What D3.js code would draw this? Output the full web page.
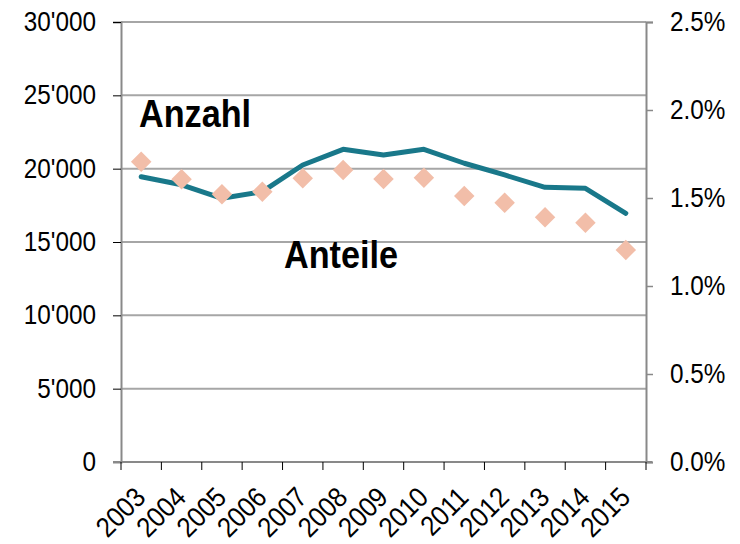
<!DOCTYPE html>
<html>
<head>
<meta charset="utf-8">
<script src="https://cdn.jsdelivr.net/npm/d3@7"></script>
<style>
  html, body { margin: 0; padding: 0; background: #fff; }
  svg text { font-family: "Liberation Sans", Arial, sans-serif; fill: #000; }
</style>
</head>
<body>
<svg id="chart" width="740" height="544"></svg>
<script>
const years = ["2003","2004","2005","2006","2007","2008","2009","2010","2011","2012","2013","2014","2015"];
const anzahl = [19450, 18900, 17980, 18430, 20250, 21320, 20930, 21320, 20370, 19570, 18730, 18660, 16960];
const anteile = [1.706, 1.606, 1.521, 1.536, 1.612, 1.659, 1.608, 1.615, 1.511, 1.473, 1.390, 1.360, 1.205];
const leftTicks = [0, 5000, 10000, 15000, 20000, 25000, 30000];
const rightTicks = [0, 0.5, 1.0, 1.5, 2.0, 2.5];
const labelAnzahl = "Anzahl";
const labelAnteile = "Anteile";

const svg = d3.select("#chart");
const L = 121, R = 646, T = 22, B = 462;

const x = d3.scaleBand().domain(years).range([L, R]).padding(0);
const yL = d3.scaleLinear().domain([0, 30000]).range([B, T]);
const yR = d3.scaleLinear().domain([0, 2.5]).range([B, T]);

const gridColor = "#A6A6A6";
const axisColor = "#898989";
const squeeze = 0.9;
function condense(sel) {
  sel.each(function() {
    const len = this.getComputedTextLength();
    d3.select(this).attr("textLength", len * squeeze).attr("lengthAdjust", "spacingAndGlyphs");
  });
}

// gridlines
svg.append("g").selectAll("line").data(leftTicks.filter(d => d > 0)).join("line")
  .attr("x1", L).attr("x2", R)
  .attr("y1", d => yL(d)).attr("y2", d => yL(d))
  .attr("stroke", gridColor).attr("stroke-width", 2);

// left axis
const fmtL = d => d3.format(",")(d).replace(/,/g, "'");
const gL = svg.append("g").attr("transform", `translate(${L},0)`)
  .call(d3.axisLeft(yL).tickValues(leftTicks).tickFormat(fmtL).tickSize(8).tickPadding(17));
gL.select(".domain").attr("stroke", axisColor).attr("stroke-width", 2);
gL.selectAll(".tick line").attr("stroke", "#000").attr("stroke-width", 1);
gL.selectAll("text").style("font-size", "27px").attr("fill", "#000").call(condense);

// right axis
const gR = svg.append("g").attr("transform", `translate(${R},0)`)
  .call(d3.axisRight(yR).tickValues(rightTicks).tickFormat(d => d3.format(".1f")(d) + "%").tickSize(7).tickPadding(17));
gR.select(".domain").attr("stroke", axisColor).attr("stroke-width", 2);
gR.selectAll(".tick line").attr("stroke", axisColor).attr("stroke-width", 1.5);
gR.selectAll("text").style("font-size", "27px").attr("fill", "#000").call(condense);

// bottom axis
svg.append("line").attr("x1", L - 8).attr("x2", R + 6).attr("y1", B).attr("y2", B)
  .attr("stroke", axisColor).attr("stroke-width", 2);
const bounds = years.map(d => x(d)).concat([x.range()[1]]);
svg.append("g").selectAll("line").data(bounds).join("line")
  .attr("x1", d => d).attr("x2", d => d).attr("y1", B).attr("y2", B + 8)
  .attr("stroke", "#000").attr("stroke-width", 1);
svg.append("g").selectAll("text").data(years).join("text")
  .attr("transform", d => `translate(${x(d) + x.bandwidth() / 2 + 6},${B + 37}) rotate(-45)`)
  .attr("text-anchor", "end")
  .style("font-size", "28px")
  .text(d => d)
  .call(condense);

// line Anzahl
const line = d3.line()
  .x((d, i) => x(years[i]) + x.bandwidth() / 2)
  .y(d => yL(d));
svg.append("path").datum(anzahl)
  .attr("d", line)
  .attr("fill", "none")
  .attr("stroke", "#19788A")
  .attr("stroke-width", 5)
  .attr("stroke-linejoin", "round")
  .attr("stroke-linecap", "round");

// diamonds Anteile
const sym = d3.symbol().type(d3.symbolSquare).size(210);
svg.append("g").selectAll("path").data(anteile).join("path")
  .attr("d", sym)
  .attr("transform", (d, i) => `translate(${x(years[i]) + x.bandwidth() / 2},${yR(d)}) rotate(45)`)
  .attr("fill", "#F2BEA9");

// annotation labels
svg.append("text").attr("x", 139).attr("y", 127)
  .style("font-size", "38px").style("font-weight", "bold").text(labelAnzahl).call(condense);
svg.append("text").attr("x", 284).attr("y", 268)
  .style("font-size", "38px").style("font-weight", "bold").text(labelAnteile).call(condense);
</script>
</body>
</html>
